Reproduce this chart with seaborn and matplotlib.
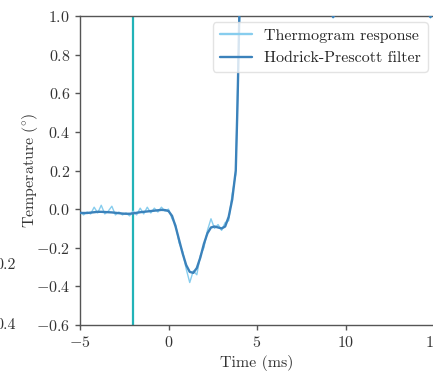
import numpy as np
import pandas as pd
import matplotlib
matplotlib.use("Agg")
import matplotlib.pyplot as plt
import seaborn as sns

# ---- data ----
time_ms = [-5.0, -4.8, -4.6, -4.4, -4.2, -4.0, -3.8, -3.6, -3.4, -3.2,
           -3.0, -2.8, -2.6, -2.4, -2.2, -2.0, -1.8, -1.6, -1.4, -1.2,
           -1.0, -0.8, -0.6, -0.4, -0.2, 0.0, 0.2, 0.4, 0.6, 0.8,
           1.0, 1.2, 1.4, 1.6, 1.8, 2.0, 2.2, 2.4, 2.6, 2.8,
           3.0, 3.2, 3.4, 3.6, 3.8, 3.9, 4.0, 4.2, 4.5, 5.0,
           6.0, 7.0, 8.0, 9.0, 9.3, 10.0, 11.0, 12.0, 13.0, 14.0,
           14.8, 15.2]

thermogram = [-0.010, -0.030, -0.015, -0.025, 0.010, -0.020, 0.020, -0.025, -0.010, 0.015,
              -0.030, -0.015, -0.030, -0.020, -0.035, -0.010, -0.030, 0.005, -0.025, 0.010,
              -0.020, 0.005, -0.015, 0.010, -0.010, 0.000, -0.050, -0.080, -0.175, -0.220,
              -0.310, -0.380, -0.320, -0.340, -0.240, -0.200, -0.110, -0.050, -0.100, -0.080,
              -0.110, -0.070, -0.060, 0.080, 0.180, 0.600, 0.950, 1.280, 1.430, 1.620,
              1.480, 1.370, 1.180, 1.060, 0.990, 1.100, 1.280, 1.370, 1.230, 1.120,
              0.990, 1.060]

hp_filter = [-0.020, -0.020, -0.020, -0.018, -0.016, -0.014, -0.014, -0.015, -0.016, -0.017,
             -0.019, -0.021, -0.023, -0.024, -0.024, -0.022, -0.019, -0.016, -0.014, -0.012,
             -0.010, -0.008, -0.006, -0.004, -0.005, -0.010, -0.035, -0.090, -0.160, -0.230,
             -0.290, -0.325, -0.330, -0.305, -0.250, -0.180, -0.125, -0.095, -0.090, -0.095,
             -0.100, -0.090, -0.040, 0.050, 0.200, 0.550, 1.000, 1.250, 1.450, 1.600,
             1.500, 1.350, 1.200, 1.050, 0.995, 1.080, 1.300, 1.350, 1.250, 1.100,
             0.995, 1.050]

marker_time = -2.0
series_names = ["Thermogram response", "Hodrick-Prescott filter"]
x_ticks = [-5, 0, 5, 10, 15]
y_ticks = [-0.6, -0.4, -0.2, 0.0, 0.2, 0.4, 0.6, 0.8, 1.0]

df = pd.DataFrame({
    "t": time_ms * 2,
    "v": thermogram + hp_filter,
    "series": [series_names[0]] * len(time_ms) + [series_names[1]] * len(time_ms),
})

sns.set_style("ticks")
plt.rcParams["font.family"] = ["serif"]
plt.rcParams["font.serif"] = ["cmr10", "DejaVu Serif"]
plt.rcParams["mathtext.fontset"] = "cm"
plt.rcParams["axes.formatter.use_mathtext"] = True
plt.rcParams["font.size"] = 11.5

fig = plt.figure(figsize=(4.33, 3.71), dpi=100)
ax = fig.add_axes([80 / 433, 46 / 371, 354 / 433, 309 / 371])

ax.axvline(marker_time, color="#22b3b8", lw=1.6, zorder=1)

palette = {series_names[0]: "#87cdee", series_names[1]: "#3b82bb"}
sns.lineplot(data=df[df.series == series_names[0]], x="t", y="v", hue="series",
             palette=palette, estimator=None, sort=False, lw=1.0, ax=ax, zorder=2)
sns.lineplot(data=df[df.series == series_names[1]], x="t", y="v", hue="series",
             palette=palette, estimator=None, sort=False, lw=1.7, ax=ax, zorder=3)

ax.set_xlim(-5, 15)
ax.set_ylim(-0.6, 1.0)
ax.set_xticks(x_ticks)
ax.set_yticks(y_ticks)
ax.set_xlabel("Time (ms)", color="#333333")
ax.set_ylabel(r"$\mathrm{Temperature\ (^{\circ})}$", color="#333333", labelpad=-3)
for side in ["left", "bottom", "top", "right"]:
    ax.spines[side].set_color("#555555")
    ax.spines[side].set_linewidth(1.0)
ax.tick_params(colors="#555555", labelcolor="#333333", length=3.5, width=1)

leg = ax.legend(loc="upper right", framealpha=0.8, edgecolor="#dddddd",
                fontsize=11.5, borderaxespad=0.4)
for line in leg.get_lines():
    line.set_linewidth(1.7)

# cut-off tick labels of the neighbouring panel on the left
fig.text(16 / 433, 1 - 265 / 371, "0.2", ha="right", va="center", color="#333333")
fig.text(16 / 433, 1 - 325 / 371, "0.4", ha="right", va="center", color="#333333")

fig.savefig("out.png", dpi=100)
